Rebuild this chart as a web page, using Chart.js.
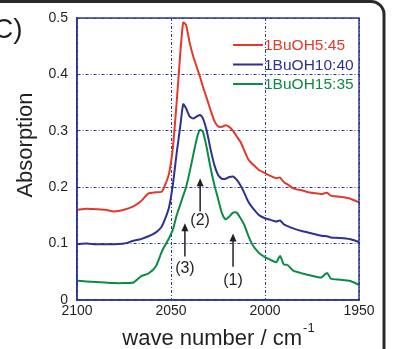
<!DOCTYPE html>
<html>
<head>
<meta charset="utf-8">
<script src="https://cdn.jsdelivr.net/npm/chart.js@4.4.1/dist/chart.umd.min.js"></script>
<style>
  html, body { margin: 0; padding: 0; background: #fff; }
  canvas { display: block; }
</style>
</head>
<body>
<canvas id="absChart" width="393" height="349"></canvas>
<script>
// wave numbers (cm-1), shared by all three spectra
var waveNumbers = [2100, 2095, 2090, 2085, 2080, 2075, 2070, 2066, 2062, 2058, 2055, 2053, 2051, 2049, 2047, 2045,
  2043.5, 2042, 2040, 2038, 2036, 2034.5, 2033, 2031, 2029, 2027, 2025, 2023, 2021, 2019, 2017, 2015, 2013, 2011,
  2009, 2007, 2005, 2003, 2000, 1997, 1994, 1992, 1990, 1988, 1985, 1980, 1975, 1970, 1967, 1965, 1960, 1955, 1950];

var abs5_45 = [0.160, 0.162, 0.161, 0.160, 0.157, 0.160, 0.166, 0.175, 0.189, 0.191, 0.192, 0.205, 0.225, 0.27, 0.35, 0.44,
  0.492, 0.488, 0.455, 0.430, 0.410, 0.395, 0.378, 0.358, 0.337, 0.318, 0.308, 0.307, 0.310, 0.307, 0.300, 0.290, 0.280, 0.265,
  0.250, 0.242, 0.236, 0.230, 0.225, 0.220, 0.216, 0.217, 0.209, 0.205, 0.198, 0.194, 0.190, 0.188, 0.190, 0.185, 0.183, 0.180, 0.173];

var abs10_40 = [0.099, 0.100, 0.099, 0.099, 0.099, 0.100, 0.105, 0.108, 0.113, 0.120, 0.130, 0.145, 0.165, 0.205, 0.26, 0.31,
  0.347, 0.340, 0.325, 0.322, 0.326, 0.328, 0.322, 0.300, 0.268, 0.240, 0.222, 0.215, 0.215, 0.218, 0.219, 0.213, 0.203, 0.190,
  0.175, 0.165, 0.157, 0.150, 0.145, 0.142, 0.139, 0.141, 0.134, 0.131, 0.127, 0.122, 0.118, 0.114, 0.113, 0.111, 0.110, 0.108, 0.103];

var abs15_35 = [0.034, 0.033, 0.032, 0.031, 0.030, 0.030, 0.031, 0.042, 0.047, 0.060, 0.085, 0.098, 0.110, 0.125, 0.150, 0.170,
  0.185, 0.200, 0.228, 0.260, 0.290, 0.302, 0.298, 0.270, 0.235, 0.205, 0.180, 0.155, 0.143, 0.148, 0.155, 0.155, 0.145, 0.133,
  0.115, 0.100, 0.090, 0.083, 0.076, 0.071, 0.067, 0.078, 0.063, 0.062, 0.052, 0.047, 0.043, 0.040, 0.048, 0.038, 0.036, 0.034, 0.027];

var seriesLabels = ['1BuOH5:45', '1BuOH10:40', '1BuOH15:35'];
var seriesColors = ['#E2392D', '#2E3192', '#0C8B45'];

var xTickLabels = ['2100', '2050', '2000', '1950'];
var yTickLabels = ['0', '0.1', '0.2', '0.3', '0.4', '0.5'];

// arrows marking the bands: x, arrow tip, arrow tail, label centre (data units)
var bandMarks = [
  { text: '(1)', x: 2017, tip: 0.118, tail: 0.059, labelY: 0.035 },
  { text: '(2)', x: 2034.5, tip: 0.216, tail: 0.157, labelY: 0.140 },
  { text: '(3)', x: 2042.6, tip: 0.136, tail: 0.077, labelY: 0.056 }
];

var FONT = '"Liberation Sans", Arial, Helvetica, sans-serif';
var INK = '#231F20';
var AXIS = '#2B3990';

function pts(ys) {
  return waveNumbers.map((x, i) => ({ x: x, y: ys[i] }));
}

var decorPlugin = {
  id: 'decor',
  afterDraw(chart) {
    var ctx = chart.ctx;
    var a = chart.chartArea;
    var xs = chart.scales.x, ys = chart.scales.y;
    ctx.save();

    // plot frame
    ctx.strokeStyle = AXIS;
    ctx.lineWidth = 1.5;
    ctx.strokeRect(a.left, a.top, a.right - a.left, a.bottom - a.top);

    // panel frame
    ctx.strokeStyle = '#2a2a2a';
    ctx.lineWidth = 3;
    ctx.beginPath();
    ctx.roundRect(-20, 1.5, 404, 420, 13);
    ctx.stroke();

    // panel letter
    ctx.fillStyle = INK;
    ctx.font = '28px ' + FONT;
    ctx.textAlign = 'left';
    ctx.textBaseline = 'alphabetic';
    ctx.fillText('C)', -7, 38);

    // legend
    ctx.font = '15.5px ' + FONT;
    ctx.textBaseline = 'middle';
    chart.data.datasets.forEach((ds, i) => {
      var y = 45 + i * 19.5;
      ctx.strokeStyle = ds.borderColor;
      ctx.lineWidth = 2;
      ctx.beginPath();
      ctx.moveTo(233, y);
      ctx.lineTo(263, y);
      ctx.stroke();
      ctx.fillStyle = ds.borderColor;
      ctx.fillText(ds.label, 264, y + 1);
    });

    // band arrows
    ctx.strokeStyle = INK;
    ctx.fillStyle = INK;
    ctx.lineWidth = 1.5;
    ctx.font = '16px ' + FONT;
    ctx.textAlign = 'center';
    bandMarks.forEach(m => {
      var px = xs.getPixelForValue(m.x);
      var tip = ys.getPixelForValue(m.tip);
      var tail = ys.getPixelForValue(m.tail);
      ctx.beginPath();
      ctx.moveTo(px, tail);
      ctx.lineTo(px, tip + 6);
      ctx.stroke();
      ctx.beginPath();
      ctx.moveTo(px, tip);
      ctx.lineTo(px - 3.5, tip + 8);
      ctx.lineTo(px + 3.5, tip + 8);
      ctx.closePath();
      ctx.fill();
      ctx.fillText(m.text, px, ys.getPixelForValue(m.labelY));
    });

    // axis titles
    ctx.font = '22px ' + FONT;
    ctx.textAlign = 'left';
    ctx.textBaseline = 'alphabetic';
    var main = 'wave number / cm';
    var w = ctx.measureText(main).width;
    ctx.font = '13px ' + FONT;
    var sw = ctx.measureText('-1').width;
    var x0 = (a.left + a.right) / 2 - (w + sw) / 2;
    ctx.font = '22px ' + FONT;
    ctx.fillText(main, x0, 345);
    ctx.font = '13px ' + FONT;
    ctx.fillText('-1', x0 + w + 1, 332);

    ctx.save();
    ctx.translate(26, 145);
    ctx.rotate(-Math.PI / 2);
    ctx.font = '22px ' + FONT;
    ctx.textAlign = 'center';
    ctx.textBaseline = 'middle';
    ctx.fillText('Absorption', 0, 0);
    ctx.restore();

    ctx.restore();
  }
};

new Chart(document.getElementById('absChart'), {
  type: 'line',
  data: {
    datasets: [
      { label: seriesLabels[0], data: pts(abs5_45), borderColor: seriesColors[0] },
      { label: seriesLabels[1], data: pts(abs10_40), borderColor: seriesColors[1] },
      { label: seriesLabels[2], data: pts(abs15_35), borderColor: seriesColors[2] }
    ]
  },
  options: {
    responsive: false,
    animation: false,
    devicePixelRatio: 1,
    layout: { padding: { left: 0, top: 18, right: 34, bottom: 0 } },
    elements: {
      line: { borderWidth: 2, tension: 0.2, fill: false },
      point: { radius: 0 }
    },
    plugins: { legend: { display: false }, tooltip: { enabled: false } },
    scales: {
      x: {
        type: 'linear',
        reverse: true,
        min: 1950,
        max: 2100,
        afterFit: s => { s.height = 49; },
        ticks: {
          stepSize: 50,
          padding: 3,
          color: INK,
          font: { family: FONT, size: 14 },
          callback: (v, i) => xTickLabels[i]
        },
        grid: { color: AXIS, lineWidth: 1, drawTicks: false },
        border: { color: AXIS, width: 1.5, dash: [3, 2, 1, 2] }
      },
      y: {
        min: 0,
        max: 0.5,
        afterFit: s => { s.width = 77; },
        ticks: {
          stepSize: 0.1,
          padding: 9,
          color: INK,
          font: { family: FONT, size: 14 },
          callback: (v, i) => yTickLabels[i]
        },
        grid: { color: AXIS, lineWidth: 1, drawTicks: false },
        border: { color: AXIS, width: 1.5, dash: [3, 2, 1, 2] }
      }
    }
  },
  plugins: [decorPlugin]
});
</script>
</body>
</html>
